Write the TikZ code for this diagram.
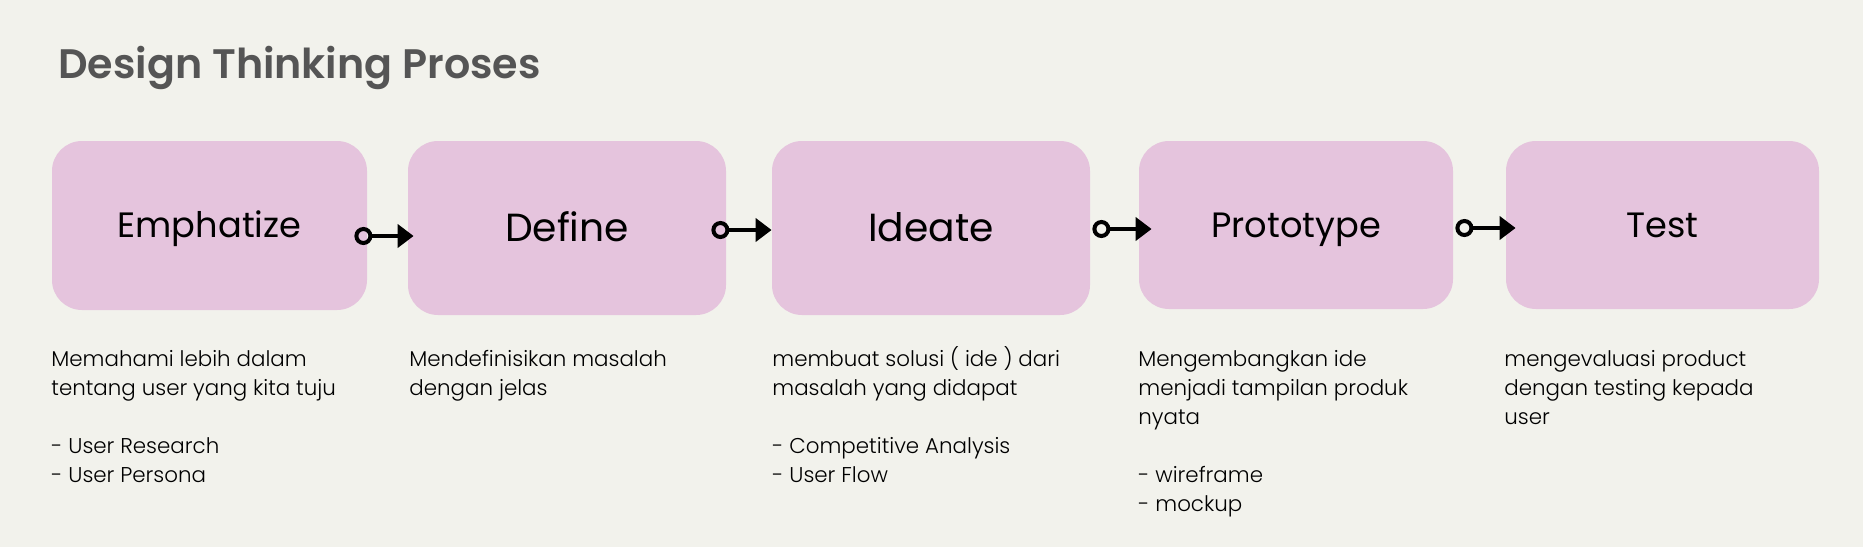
\documentclass[tikz,border=0pt]{standalone}
\usepackage{fontspec}
\setmainfont{Poppins}
\newfontfamily\titlefont{Poppins}[UprightFont=* SemiBold]
\newfontfamily\bodyfont{Poppins}[UprightFont=* Light]
\usetikzlibrary{arrows.meta,calc}
\definecolor{bg}{HTML}{F2F2EC}
\definecolor{boxpink}{HTML}{E5C4DD}
\definecolor{titlegray}{HTML}{555555}
\tikzset{
  stage/.style={fill=boxpink, rounded corners=15pt, inner sep=0pt, text depth=0pt},
  labelsm/.style={font=\fontsize{17.6pt}{20pt}\selectfont, text height=12.3pt},
  labelbg/.style={font=\fontsize{19.6pt}{23pt}\selectfont, text height=13.7pt},
  note/.style={anchor=north west, align=left, inner sep=0pt, font=\bodyfont\fontsize{10.7pt}{14.5pt}\selectfont},
  flow/.style={line width=2pt, {Circle[open,length=9pt,width=9pt]}-{Triangle[length=8pt,width=11.5pt]}}
}
\begin{document}
\begin{tikzpicture}[x=0.5pt, y=-0.5pt]
        \fill[bg] (0,0) rectangle (1863,547);
        \useasboundingbox (0,0) rectangle (1863,547);

        \node[anchor=base west, inner sep=0pt, text=titlegray, font=\titlefont\fontsize{20.6pt}{25pt}\selectfont] (title) at (58,78) {Design Thinking Proses};

        \node[stage, labelsm, minimum width=157.5pt, minimum height=84.5pt] (emph) at (209.5,225.5) {Emphatize};
        \node[stage, labelbg, minimum width=159pt, minimum height=87pt] (define) at (567,228) {Define};
        \node[stage, labelbg, minimum width=159pt, minimum height=87pt] (ideate) at (931,228) {Ideate};
        \node[stage, labelsm, minimum width=157pt, minimum height=84pt] (proto) at (1296,225) {Prototype};
        \node[stage, labelsm, minimum width=156.5pt, minimum height=84pt] (test) at (1662.5,225) {Test};

        \draw[flow] ($(emph.east)+(-13,10.5)$) -- ($(define.west)+(6,8)$);
        \draw[flow] ($(define.east)+(-15,2)$) -- ($(ideate.west)+(0,2)$);
        \draw[flow] ($(ideate.east)+(2,1)$) -- ($(proto.west)+(13,4)$);
        \draw[flow] ($(proto.east)+(2,3)$) -- ($(test.west)+(10,3)$);

        \node[note] (emphnote) at (51,345.7) {\strut Memahami lebih dalam\\tentang user yang kita tuju\\ {} \\- User Research\\- User Persona};
        \node[note] (definenote) at (409,345.7) {\strut Mendefinisikan masalah\\dengan jelas};
        \node[note] (ideatenote) at (772,345.7) {\strut membuat solusi ( ide ) dari\\masalah yang didapat\\ {} \\- Competitive Analysis\\- User Flow};
        \node[note] (protonote) at (1138,345.7) {\strut Mengembangkan ide\\menjadi tampilan produk\\nyata\\ {} \\- wireframe\\- mockup};
        \node[note] (testnote) at (1504,345.7) {\strut mengevaluasi product\\dengan testing kepada\\user};
    \end{tikzpicture}
\end{document}
